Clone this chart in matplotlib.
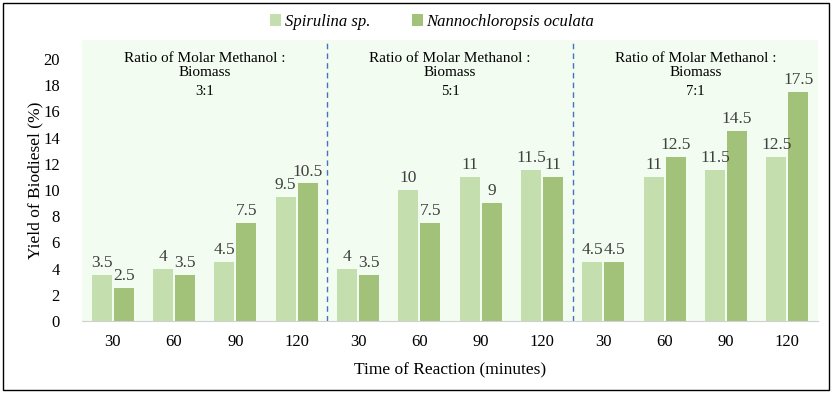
import matplotlib
matplotlib.use("Agg")
import matplotlib.pyplot as plt
import numpy as np
from matplotlib.patches import Rectangle

times = ["30", "60", "90", "120"] * 3
ratios = ["3:1", "5:1", "7:1"]
spirulina = [3.5, 4, 4.5, 9.5, 4, 10, 11, 11.5, 4.5, 11, 11.5, 12.5]
nanno = [2.5, 3.5, 7.5, 10.5, 3.5, 7.5, 9, 11, 4.5, 12.5, 14.5, 17.5]

plt.rcParams['font.family'] = ['Liberation Serif', 'DejaVu Serif']

fig = plt.figure(figsize=(8.32, 3.93), dpi=100)
ax = fig.add_axes([82/832, 1-321/393, 736/832, (321-40)/393])
ax.set_facecolor('#F2FCF0')

x = np.arange(len(times))
w = 0.33
c1 = '#C5DEAE'
c2 = '#A2C279'
b1 = ax.bar(x - w/2 - 0.015, spirulina, w, color=c1, label='Spirulina sp.')
b2 = ax.bar(x + w/2 + 0.015, nanno, w, color=c2, label='Nannochloropsis oculata')
for xi, v in zip(x - w/2 - 0.015, spirulina):
    ax.text(xi, v + 0.3, f"{v:g}", ha='center', va='bottom', fontsize=12.5, color='#404040')
for xi, v in zip(x + w/2 + 0.015, nanno):
    ax.text(xi, v + 0.3, f"{v:g}", ha='center', va='bottom', fontsize=12.5, color='#404040')

ax.set_xlim(-0.5, len(times) - 0.5)
ax.set_ylim(0, 21.45)
ax.set_yticks(range(0, 21, 2))
ax.set_xticks(x)
ax.set_xticklabels(times)
ax.tick_params(axis='both', length=0, labelsize=12, colors='#000000')
ax.tick_params(axis='x', pad=9)
ax.tick_params(axis='y', pad=16)
for s in ['top', 'right', 'left']:
    ax.spines[s].set_visible(False)
ax.spines['bottom'].set_color('#D0D0D0')

for b in [3.5, 7.5]:
    ax.axvline(b, color='#4472C4', linestyle=(0, (4, 3)), linewidth=1)

for i, r in enumerate(ratios):
    cx = i * 4 + 1.5
    ax.text(cx, 19.5, "Ratio of Molar Methanol :\nBiomass", ha='center', va='center',
            fontsize=11, linespacing=1.15)
    ax.text(cx, 17.55, r, ha='center', va='center', fontsize=10.5)

ax.set_xlabel("Time of Reaction (minutes)", fontsize=12.5, labelpad=9)
ax.set_ylabel("Yield of Biodiesel (%)", fontsize=12.5, labelpad=0)

leg = fig.legend(handles=[b1, b2], loc='center', bbox_to_anchor=(432/832, 1-22/393), ncol=2,
                 frameon=False, prop={'style': 'italic', 'size': 12},
                 handlelength=0.7, handleheight=0.7, handletextpad=0.2, columnspacing=2.5)

fig.patches.append(Rectangle((3/832, 3/393), 826/832, 387/393, transform=fig.transFigure,
                             fill=False, edgecolor='black', linewidth=1))

fig.savefig("out.png", dpi=100)
